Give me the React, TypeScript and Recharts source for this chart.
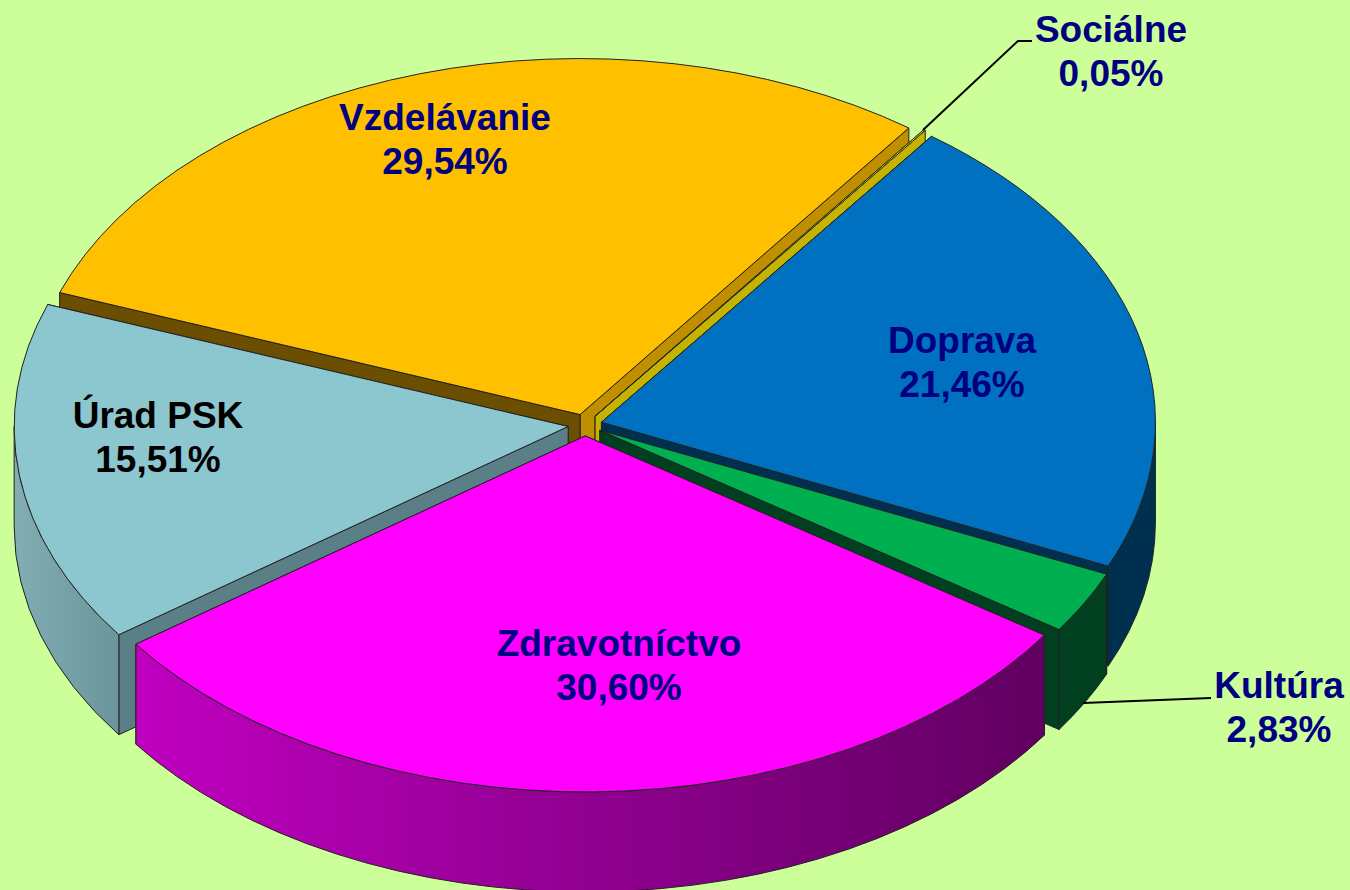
import React from 'react';
import { PieChart, Pie } from 'recharts';

const sectors = ['Úrad PSK', 'Vzdelávanie', 'Sociálne', 'Doprava', 'Kultúra', 'Zdravotníctvo'];
const shares = [15.51, 29.54, 0.05, 21.46, 2.83, 30.6];

const topColors = ['#8CC6CE', '#FFC000', '#FFFF00', '#0070C0', '#00B050', '#FF00FF'];
const startWallColors = ['#5B7F86', '#6B4E00', '#C4B400', '#003050', '#004020', '#600060'];
const endWallColors = ['#5B7F86', '#BF8F00', '#C4B400', '#003050', '#004020', '#600060'];
const textColors = ['#000000', '#000080', '#000080', '#000080', '#000080', '#000080'];
const labelX = [158, 445, 1111, 962, 1279, 619];
const labelY = [428, 130, 42, 353, 698, 656];

const data = sectors.map((name, i) => ({ name, value: shares[i] }));

const CX = 585;
const CY = 425;
const RX = 554;
const RY = 356;
const KY = RY / RX;
const DEPTH = 100;
const EXPLODE = 17;
const RAD = Math.PI / 180;

// recharts gives angles on a circle, here they are squashed onto an ellipse
const geometry = (props: any) => {
    const { startAngle, endAngle, index } = props;
    const mid = (startAngle + endAngle) / 2;
    const ax = CX + EXPLODE * Math.cos(mid * RAD);
    const ay = CY - EXPLODE * KY * Math.sin(mid * RAD);
    const at = (a: number) => [ax + RX * Math.cos(a * RAD), ay - RY * Math.sin(a * RAD)];
    const p1 = at(startAngle);
    const p2 = at(endAngle);
    const large = Math.abs(endAngle - startAngle) > 180 ? 1 : 0;
    return { ax, ay, at, p1, p2, large, index };
};

// only the part of the rim facing the viewer gets a wall
const frontRange = (start: number, end: number) => {
    for (const [hi, lo] of [[0, -180], [-360, -540]]) {
        const a = Math.min(start, hi);
        const b = Math.max(end, lo);
        if (a > b) return [a, b];
    }
    return null;
};

const WallShape = (props: any) => {
    const { ax, ay, at, p1, p2, index } = geometry(props);
    const range = frontRange(props.startAngle, props.endAngle);
    const face = (p: number[]) => `M${ax},${ay} L${p[0]},${p[1]} L${p[0]},${p[1] + DEPTH} L${ax},${ay + DEPTH} Z`;
    let outer = '';
    if (range) {
        const a = at(range[0]);
        const b = at(range[1]);
        outer = `M${a[0]},${a[1]} A${RX},${RY} 0 0 1 ${b[0]},${b[1]} L${b[0]},${b[1] + DEPTH} A${RX},${RY} 0 0 0 ${a[0]},${a[1] + DEPTH} Z`;
    }
    const startFace = <path d={face(p1)} fill={startWallColors[index]} />;
    const endFace = <path d={face(p2)} fill={endWallColors[index]} />;
    // the cut nearer the viewer goes last
    const startInFront = p1[1] > p2[1];
    return (
        <g stroke="#222" strokeWidth={1}>
            {startInFront ? endFace : startFace}
            {startInFront ? startFace : endFace}
            {outer && <path d={outer} fill={`url(#outer${index})`} />}
        </g>
    );
};

// Vzdelávanie and Sociálne sit at the back, their walls have to go under the others
const BackWallShape = (props: any) => (props.index === 1 || props.index === 2 ? <WallShape {...props} /> : <g />);
const FrontWallShape = (props: any) => (props.index === 1 || props.index === 2 ? <g /> : <WallShape {...props} />);

const TopShape = (props: any) => {
    const { ax, ay, p1, p2, large, index } = geometry(props);
    return (
        <path
            d={`M${ax},${ay} L${p1[0]},${p1[1]} A${RX},${RY} 0 ${large} 1 ${p2[0]},${p2[1]} Z`}
            fill={topColors[index]}
            stroke="#222"
            strokeWidth={1}
        />
    );
};

const renderLabel = (props: any) => {
    const { index } = props;
    const x = labelX[index];
    const y = labelY[index];
    return (
        <g key={sectors[index]}>
            {index === 2 && <polyline points="1032,41 1018,41 923,130" fill="none" stroke="#000" strokeWidth={2} />}
            {index === 4 && <line x1={1211} y1={698} x2={1083} y2={703} stroke="#000" strokeWidth={2} />}
            <text
                x={x}
                y={y}
                textAnchor="middle"
                fill={textColors[index]}
                fontFamily="Liberation Sans"
                fontWeight="bold"
                fontSize={37}
            >
                <tspan x={x}>{sectors[index]}</tspan>
                <tspan x={x} dy={44}>{shares[index].toFixed(2).replace('.', ',')}%</tspan>
            </text>
        </g>
    );
};

const gradients = [
    ['#82ADB2', '#6A959B'],
    ['#BF8F00', '#BF8F00'],
    ['#C4B400', '#C4B400'],
    ['#003050', '#003050'],
    ['#004020', '#004020'],
    ['#C000C0', '#600060'],
];

export default function App() {
    const pieProps = {
        data,
        dataKey: 'value',
        nameKey: 'name',
        cx: CX,
        cy: CY,
        outerRadius: RX,
        startAngle: -144.2,
        endAngle: -504.2,
        stroke: 'none',
        isAnimationActive: false,
    };
    return (
        <div style={{ position: 'absolute', left: 0, top: 0, width: 1350, height: 890, background: '#CCFF99', overflow: 'hidden' }}>
            <PieChart width={1350} height={890} margin={{ top: 0, right: 0, bottom: 0, left: 0 }}>
                <defs>
                    {gradients.map((g, i) => (
                        <linearGradient key={i} id={`outer${i}`} x1="0" y1="0" x2="1" y2="0">
                            <stop offset="0%" stopColor={g[0]} />
                            <stop offset="100%" stopColor={g[1]} />
                        </linearGradient>
                    ))}
                </defs>
                <Pie {...pieProps} shape={BackWallShape} />
                <Pie {...pieProps} shape={FrontWallShape} />
                <Pie {...pieProps} shape={TopShape} label={renderLabel} labelLine={false} />
            </PieChart>
        </div>
    );
}
